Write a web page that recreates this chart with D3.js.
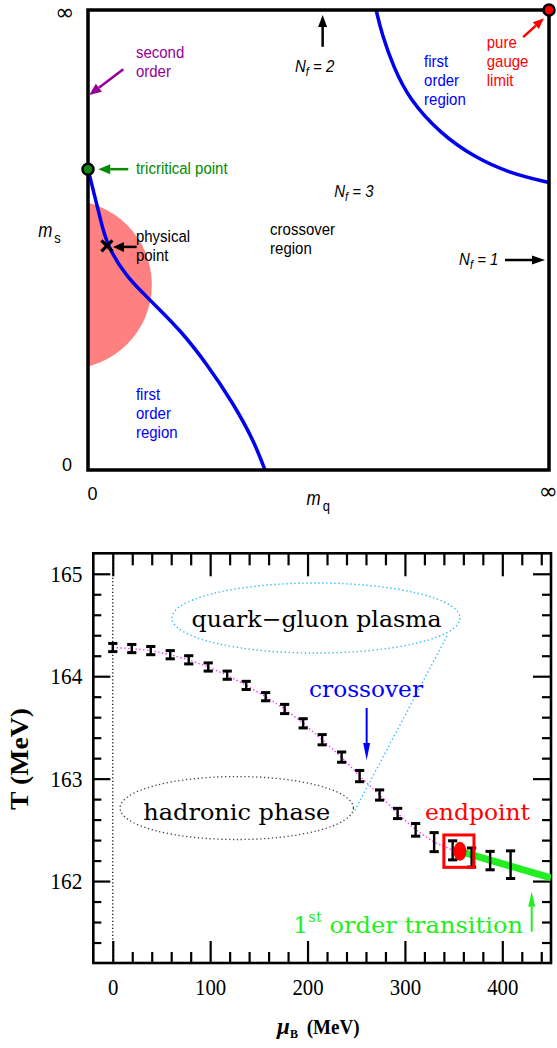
<!DOCTYPE html>
<html><head><meta charset="utf-8">
<script src="https://cdn.jsdelivr.net/npm/d3@7"></script>
<style>body{margin:0;background:#fff}svg{display:block}</style>
</head><body>
<svg id="c" width="557" height="1048"></svg>
<script>
// ===== Top panel data (axes run 0 .. infinity, stored as fractions of the axis) =====
const lowerCurveMq = [0, 0.012, 0.026, 0.041, 0.084, 0.120, 0.149, 0.200, 0.257, 0.315, 0.359, 0.384];
const lowerCurveMs = [0.654, 0.605, 0.550, 0.487, 0.420, 0.384, 0.355, 0.304, 0.232, 0.145, 0.065, 0];
const upperCurveMq = [0.625, 0.637, 0.662, 0.698, 0.764, 0.836, 0.915, 1.0];
const upperCurveMs = [1.0, 0.949, 0.877, 0.804, 0.732, 0.681, 0.645, 0.625];
const tricritical = [0, 0.654];
const physicalPoint = [0.041, 0.487];
const pureGauge = [1, 1];
const physicalRegion = [-0.0445, 0.403, 0.183]; // centre mq, centre ms, radius (mq units)

// ===== Bottom panel data =====
const muB  = [0, 19.5, 39, 59, 78, 98, 117.5, 137, 157, 176.5, 195.5, 215, 235, 253.5, 274, 292.5, 311, 330, 349, 368.5, 387.5, 408.5];
const Tval = [164.28, 164.27, 164.25, 164.21, 164.16, 164.09, 164.01, 163.91, 163.80, 163.68, 163.54, 163.38, 163.21, 163.025, 162.84, 162.66, 162.50, 162.38, 162.30, 162.23, 162.20, 162.16];
const Terr = [0.04, 0.04, 0.04, 0.04, 0.04, 0.04, 0.04, 0.04, 0.04, 0.045, 0.045, 0.05, 0.05, 0.055, 0.05, 0.05, 0.062, 0.093, 0.093, 0.093, 0.09, 0.135];
const crossoverLastIndex = 18;
const endpoint = [356.5, 162.29];
const firstOrderMu = [356.5, 450];
const firstOrderT = [162.29, 162.03];
const xMajorTicks = [0, 100, 200, 300, 400];
const yMajorTicks = [162, 163, 164, 165];
const xMinorTicks = d3.range(20, 450, 20).filter(v => v % 100 !== 0);
const yMinorTicks = d3.range(1, 20).map(i => +(161.2 + i * 0.2).toFixed(1)).filter(v => Math.abs(v - Math.round(v)) > 1e-6);

const svg = d3.select('#c');

function arrow(g, xa, ya, xb, yb, color, w, hl, hw) {
  const ang = Math.atan2(yb - ya, xb - xa);
  const bx = xb - hl * Math.cos(ang), by = yb - hl * Math.sin(ang);
  g.append('line').attr('x1', xa).attr('y1', ya).attr('x2', bx).attr('y2', by)
    .attr('stroke', color).attr('stroke-width', w);
  const px = -Math.sin(ang) * hw / 2, py = Math.cos(ang) * hw / 2;
  g.append('path').attr('d', `M${xb},${yb}L${bx + px},${by + py}L${bx - px},${by - py}Z`).attr('fill', color);
}

// ================= TOP PANEL =================
const x0 = d3.scaleLinear().domain([0, 1]).range([88, 549]);
const y0 = d3.scaleLinear().domain([0, 1]).range([470, 10]);
const gt = svg.append('g');
gt.append('clipPath').attr('id', 'clipTop').append('rect')
  .attr('x', x0(0)).attr('y', y0(1)).attr('width', x0(1) - x0(0)).attr('height', y0(0) - y0(1));
gt.append('circle').attr('clip-path', 'url(#clipTop)')
  .attr('cx', x0(physicalRegion[0])).attr('cy', y0(physicalRegion[1]))
  .attr('r', x0(physicalRegion[2]) - x0(0)).attr('fill', '#ff8080');

const line0 = d3.line().x(d => x0(d[0])).y(d => y0(d[1])).curve(d3.curveBasis);
gt.append('path').attr('d', line0(d3.zip(lowerCurveMq, lowerCurveMs)))
  .attr('fill', 'none').attr('stroke', '#0000ee').attr('stroke-width', 3.5);
gt.append('path').attr('d', line0(d3.zip(upperCurveMq, upperCurveMs)))
  .attr('fill', 'none').attr('stroke', '#0000ee').attr('stroke-width', 3.5);

gt.append('rect').attr('x', x0(0)).attr('y', y0(1)).attr('width', x0(1) - x0(0)).attr('height', y0(0) - y0(1))
  .attr('fill', 'none').attr('stroke', '#000').attr('stroke-width', 3.5);

// physical point X
const ppx = x0(physicalPoint[0]), ppy = y0(physicalPoint[1]);
gt.append('path').attr('d', `M${ppx - 5.5},${ppy - 5.5}L${ppx + 5.5},${ppy + 5.5}M${ppx - 5.5},${ppy + 5.5}L${ppx + 5.5},${ppy - 5.5}`)
  .attr('stroke', '#000').attr('stroke-width', 3.2);
gt.append('circle').attr('cx', x0(tricritical[0])).attr('cy', y0(tricritical[1])).attr('r', 5.5)
  .attr('fill', '#118811').attr('stroke', '#000').attr('stroke-width', 2.5);
gt.append('circle').attr('cx', x0(pureGauge[0])).attr('cy', y0(pureGauge[1])).attr('r', 5.5)
  .attr('fill', '#ff0000').attr('stroke', '#000').attr('stroke-width', 2.5);

// arrows
arrow(gt, x0(0.0766), y0(0.871), x0(0.0028), y0(0.815), '#960096', 2.5, 12, 10);
arrow(gt, x0(0.0874), y0(0.654), x0(0.0223), y0(0.654), '#008c00', 2.5, 12, 10);
arrow(gt, x0(0.1056), y0(0.485), x0(0.0542), y0(0.485), '#000', 2.5, 11, 10);
arrow(gt, x0(0.509), y0(0.920), x0(0.509), y0(0.989), '#000', 2.5, 12, 9);
arrow(gt, x0(0.944), y0(0.941), x0(0.989), y0(0.982), '#ff0000', 2.5, 11, 9);
arrow(gt, x0(0.9046), y0(0.4565), x0(0.9913), y0(0.4565), '#000', 2.5, 13, 9);

const SANS = '"Liberation Sans", Arial, Helvetica, sans-serif';
function tlabel(u, v, lines, color) {
  const t = gt.append('text').attr('transform', `translate(${x0(u)},${y0(v)}) scale(1,1.15)`)
    .attr('fill', color).style('font-family', SANS).style('font-size', '15px');
  lines.forEach((s, i) => t.append('tspan').attr('x', 0).attr('dy', i ? 16.6 : 0).text(s));
}
tlabel(0.104, 0.895, ['second', 'order'], '#960096');
tlabel(0.104, 0.643, ['tricritical point'], '#008c00');
tlabel(0.104, 0.496, ['physical', 'point'], '#000');
tlabel(0.395, 0.511, ['crossover', 'region'], '#000');
tlabel(0.729, 0.877, ['first', 'order', 'region'], '#0000ff');
tlabel(0.865, 0.917, ['pure', 'gauge', 'limit'], '#ff0000');
tlabel(0.104, 0.152, ['first', 'order', 'region'], '#0000ff');

function nf(u, v, n) {
  const t = gt.append('text').attr('transform', `translate(${x0(u)},${y0(v)}) scale(1,1.15)`)
    .style('font-family', SANS).style('font-size', '15px').style('font-style', 'italic');
  t.append('tspan').text('N');
  t.append('tspan').attr('dy', 3.5).style('font-size', '11px').text('f');
  t.append('tspan').attr('dy', -3.5).text(' = ' + n);
}
nf(0.449, 0.865, 2);
nf(0.534, 0.594, 3);
nf(0.805, 0.446, 1);

function msym(u, v, sub) {
  const t = gt.append('text').attr('transform', `translate(${x0(u)},${y0(v)}) scale(1,1.15)`)
    .style('font-family', SANS).style('font-size', '17px');
  t.append('tspan').style('font-style', 'italic').text('m');
  t.append('tspan').attr('dx', 2).attr('dy', 5).style('font-size', '13px').text(sub);
}
msym(-0.108, 0.507, 's');
msym(0.474, -0.076, 'q');

gt.append('text').attr('x', x0(-0.0456)).attr('y', y0(-0.003)).attr('text-anchor', 'middle')
  .style('font-family', SANS).style('font-size', '18px').text('0');
gt.append('text').attr('x', x0(0.01)).attr('y', y0(-0.065)).attr('text-anchor', 'middle')
  .style('font-family', SANS).style('font-size', '18px').text('0');
gt.append('text').attr('x', x0(-0.051)).attr('y', y0(0.994)).attr('text-anchor', 'middle').attr('dy', '0.33em')
  .style('font-family', '"DejaVu Sans", sans-serif').style('font-size', '23px').text('∞');
gt.append('text').attr('x', x0(0.998)).attr('y', y0(-0.047)).attr('text-anchor', 'middle').attr('dy', '0.33em')
  .style('font-family', '"DejaVu Sans", sans-serif').style('font-size', '23px').text('∞');

// ================= BOTTOM PANEL =================
const x1 = d3.scaleLinear().domain([-20, 450]).range([93.3, 551]);
const y1 = d3.scaleLinear().domain([161.2, 165.2]).range([963, 553.3]);
const gb = svg.append('g');
const SERIF = '"DejaVu Serif", serif';
const TICKF = '"Liberation Serif", "Times New Roman", serif';

gb.append('clipPath').attr('id', 'clipBot').append('rect')
  .attr('x', x1(-20)).attr('y', y1(165.2)).attr('width', x1(450) - x1(-20)).attr('height', y1(161.2) - y1(165.2));

function styleAxis(sel, w) {
  sel.select('.domain').remove();
  sel.selectAll('.tick line').attr('stroke', '#000').attr('stroke-width', w);
  sel.selectAll('text').attr('fill', '#000').style('font-family', TICKF).style('font-size', '23px');
}
const axB = gb.append('g').attr('transform', `translate(0,${y1(161.2)})`)
  .call(d3.axisBottom(x1).tickValues(xMajorTicks).tickFormat(d3.format('d')).tickSize(-22).tickPadding(15.7));
styleAxis(axB, 2.2);
axB.selectAll('text').each(function() {
  const s = d3.select(this); const n = s.text().length;
  s.attr('textLength', 10.4 * n).attr('lengthAdjust', 'spacingAndGlyphs');
});
styleAxis(gb.append('g').attr('transform', `translate(0,${y1(161.2)})`)
  .call(d3.axisBottom(x1).tickValues(xMinorTicks).tickSize(-11).tickFormat('')), 2.2);
styleAxis(gb.append('g').attr('transform', `translate(0,${y1(165.2)})`)
  .call(d3.axisTop(x1).tickValues(xMajorTicks).tickSize(-23).tickFormat('')), 2.2);
styleAxis(gb.append('g').attr('transform', `translate(0,${y1(165.2)})`)
  .call(d3.axisTop(x1).tickValues(xMinorTicks).tickSize(-12).tickFormat('')), 2.2);
const axL = gb.append('g').attr('transform', `translate(${x1(-20)},0)`)
  .call(d3.axisLeft(y1).tickValues(yMajorTicks).tickFormat(d3.format('d')).tickSize(-17).tickPadding(11));
styleAxis(axL, 2.2);
axL.selectAll('text').attr('textLength', 32).attr('lengthAdjust', 'spacingAndGlyphs');
styleAxis(gb.append('g').attr('transform', `translate(${x1(-20)},0)`)
  .call(d3.axisLeft(y1).tickValues(yMinorTicks).tickSize(-8).tickFormat('')), 2.2);
styleAxis(gb.append('g').attr('transform', `translate(${x1(450)},0)`)
  .call(d3.axisRight(y1).tickValues(yMajorTicks).tickSize(-18).tickFormat('')), 2.2);
styleAxis(gb.append('g').attr('transform', `translate(${x1(450)},0)`)
  .call(d3.axisRight(y1).tickValues(yMinorTicks).tickSize(-9).tickFormat('')), 2.2);

gb.append('rect').attr('x', x1(-20)).attr('y', y1(165.2)).attr('width', x1(450) - x1(-20)).attr('height', y1(161.2) - y1(165.2))
  .attr('fill', 'none').attr('stroke', '#000').attr('stroke-width', 2.6);

// vertical dotted line at mu=0
gb.append('line').attr('x1', x1(0)).attr('x2', x1(0)).attr('y1', y1(165.2)).attr('y2', y1(161.2))
  .attr('stroke', '#000').attr('stroke-width', 1.2).attr('stroke-dasharray', '1.2,2.3');

// phase balloons
const qgp = [208.7, 164.568, 147.9, 0.342];
const had = [127.3, 162.713, 119.8, 0.3075];
gb.append('ellipse').attr('cx', x1(qgp[0])).attr('cy', y1(qgp[1]))
  .attr('rx', x1(qgp[0] + qgp[2]) - x1(qgp[0])).attr('ry', y1(qgp[1] - qgp[3]) - y1(qgp[1]))
  .attr('fill', 'none').attr('stroke', '#33bbff').attr('stroke-width', 1.4).attr('stroke-dasharray', '1.4,2.6');
gb.append('line').attr('x1', x1(343.2)).attr('y1', y1(164.393)).attr('x2', x1(247.0)).attr('y2', y1(162.662))
  .attr('stroke', '#33bbff').attr('stroke-width', 1.4).attr('stroke-dasharray', '1.4,2.6');
gb.append('ellipse').attr('cx', x1(had[0])).attr('cy', y1(had[1]))
  .attr('rx', x1(had[0] + had[2]) - x1(had[0])).attr('ry', y1(had[1] - had[3]) - y1(had[1]))
  .attr('fill', 'none').attr('stroke', '#444').attr('stroke-width', 1.3).attr('stroke-dasharray', '1.3,2.6');

// crossover line (magenta dotted)
const pts = d3.zip(muB, Tval);
gb.append('path').attr('d', d3.line().x(d => x1(d[0])).y(d => y1(d[1]))(pts.slice(0, crossoverLastIndex + 1)))
  .attr('fill', 'none').attr('stroke', '#ff33ff').attr('stroke-width', 1.4).attr('stroke-dasharray', '1.4,2.4');

// first-order line (green)
gb.append('path').attr('clip-path', 'url(#clipBot)')
  .attr('d', d3.line().x(d => x1(d[0])).y(d => y1(d[1]))(d3.zip(firstOrderMu, firstOrderT)))
  .attr('fill', 'none').attr('stroke', '#22ee22').attr('stroke-width', 7);

// error bars
const eb = gb.append('g').attr('stroke', '#000');
muB.forEach((m, i) => {
  const cx = x1(m), yt = y1(Tval[i] + Terr[i]), yb = y1(Tval[i] - Terr[i]);
  eb.append('line').attr('x1', cx).attr('x2', cx).attr('y1', yt).attr('y2', yb).attr('stroke-width', 2.4);
  eb.append('line').attr('x1', cx - 4.6).attr('x2', cx + 4.6).attr('y1', yt).attr('y2', yt).attr('stroke-width', 3);
  eb.append('line').attr('x1', cx - 4.6).attr('x2', cx + 4.6).attr('y1', yb).attr('y2', yb).attr('stroke-width', 3);
});

// endpoint
gb.append('ellipse').attr('cx', x1(endpoint[0])).attr('cy', y1(endpoint[1])).attr('rx', 6.5).attr('ry', 9.5).attr('fill', '#ff0000');
gb.append('rect').attr('x', x1(340.0)).attr('y', y1(162.450)).attr('width', x1(370.9) - x1(340.0)).attr('height', y1(162.134) - y1(162.450))
  .attr('fill', 'none').attr('stroke', '#ff0000').attr('stroke-width', 3);

// texts
function btext(m, t, str, color, len) {
  return gb.append('text').attr('x', x1(m)).attr('y', y1(t)).attr('fill', color)
    .style('font-family', SERIF).style('font-size', '23px')
    .attr('textLength', len).attr('lengthAdjust', 'spacingAndGlyphs').text(str);
}
btext(80.95, 164.483, 'quark\u2212gluon  plasma', '#000', 250);
btext(201.5, 163.797, 'crossover', '#0000ff', 114);
btext(320.6, 162.596, 'endpoint', '#ff0000', 105);
btext(31.3, 162.596, 'hadronic  phase', '#000', 187);
// 1st order transition
const fo = gb.append('text').attr('x', x1(185.1)).attr('y', y1(161.493)).attr('fill', '#22ee22')
  .style('font-family', SERIF).style('font-size', '23px').attr('textLength', 230).attr('lengthAdjust', 'spacingAndGlyphs');
fo.append('tspan').text('1');
fo.append('tspan').attr('dy', -11).style('font-size', '14px').text('st');
fo.append('tspan').attr('dy', 11).text('  order  transition');

arrow(gb, x1(260.7), y1(163.690), x1(260.7), y1(163.182), '#0000ff', 2, 17, 7);
arrow(gb, x1(430.2), y1(161.506), x1(430.2), y1(161.896), '#22ee22', 2, 15, 7);

// axis titles
const BOLD = '"Liberation Serif", "Times New Roman", serif';
gb.append('text').attr('x', 277).attr('y', 1034).style('font-family', BOLD).style('font-weight', 'bold')
  .style('font-style', 'italic').style('font-size', '23px').text('\u03bc');
gb.append('text').attr('x', 290).attr('y', 1038).style('font-family', BOLD).style('font-weight', 'bold')
  .style('font-size', '12px').text('B');
gb.append('text').attr('x', 306.7).attr('y', 1034).style('font-family', BOLD).style('font-weight', 'bold')
  .style('font-size', '22px').attr('textLength', 53).attr('lengthAdjust', 'spacingAndGlyphs').text('(MeV)');
gb.append('text').attr('transform', `translate(27.5,810) rotate(-90)`).style('font-family', BOLD).style('font-weight', 'bold')
  .style('font-size', '26px').attr('textLength', 102).attr('lengthAdjust', 'spacingAndGlyphs').text('T  (MeV)');
</script>
</body></html>
